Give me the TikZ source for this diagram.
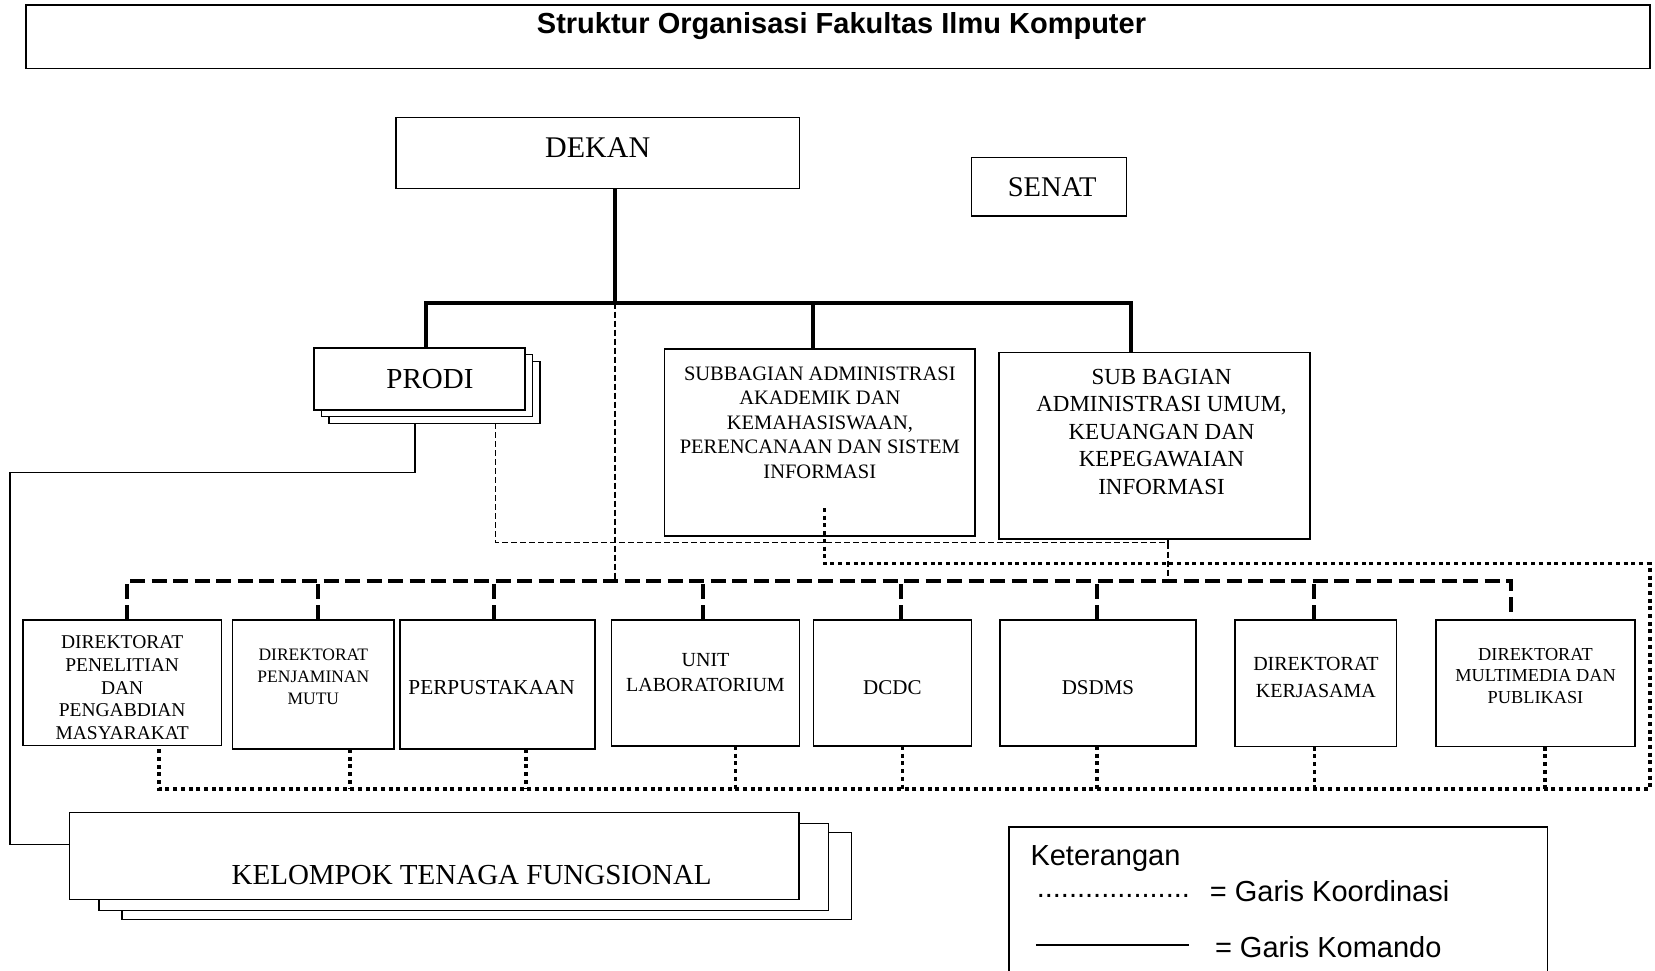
\documentclass[tikz,border=0pt]{standalone}
\usepackage{fontspec}
\setmainfont{Liberation Serif}
\newfontfamily\arial{Liberation Sans}
\newcommand{\angkat}[1]{\rule[-#1]{0pt}{#1}}
\newcommand{\turun}[1]{\rule{0pt}{#1}}
\newcommand{\ukuran}[2]{\fontsize{#1}{#2}\selectfont}
\begin{document}
\begin{tikzpicture}[x=1pt, y=-1pt,
    kotak/.style={draw=black, line width=1.5pt, fill=white, inner sep=0pt, outer sep=0pt, align=center},
    komando/.style={line width=4pt},
    garis/.style={line width=1.5pt},
    tipis/.style={line width=1.5pt, dash pattern=on 6pt off 3pt},
    putus/.style={line width=4pt, dash pattern=on 15pt off 6.5pt},
    titik/.style={line width=3.5pt, dash pattern=on 4pt off 3.7pt},
    legenda/.style={font=\arial\ukuran{29}{34}, inner sep=0pt, anchor=base west}]
  \useasboundingbox (0,0) rectangle (1655,971);

  % judul
  \node[kotak, minimum width=1624pt, minimum height=63.5pt, font=\arial\bfseries\ukuran{29}{34}] (judul) at (838,36.75) {\hspace*{7pt}Struktur Organisasi Fakultas Ilmu Komputer\angkat{28pt}};

  % pimpinan
  \node[kotak, minimum width=403.4pt, minimum height=71pt, font=\ukuran{30}{36}] (dekan) at (597.7,152.8) {DEKAN\angkat{11.2pt}};
  \node[kotak, minimum width=155pt, minimum height=58.7pt, font=\ukuran{28.5}{34}] (senat) at (1049.2,186.65) {\turun{20.1pt}\hspace*{6pt}SENAT};

  \node[kotak, minimum width=211pt, minimum height=62pt] (prodi3) at (434.5,392.3) {};
  \node[kotak, minimum width=211pt, minimum height=62pt] (prodi2) at (427,385.7) {};
  \node[kotak, minimum width=211pt, minimum height=62pt, font=\ukuran{29}{35}] (prodi) at (419.5,379) {\hspace*{21pt}PRODI};

  \node[kotak, minimum width=310.7pt, minimum height=187pt, font=\ukuran{20.5}{24.6}] (sub1) at (819.85,442.5) {SUBBAGIAN ADMINISTRASI\\AKADEMIK DAN\\KEMAHASISWAAN,\\PERENCANAAN DAN SISTEM\\INFORMASI\angkat{40pt}};
  \node[kotak, minimum width=310.9pt, minimum height=186.3pt, font=\ukuran{23}{27.5}] (sub2) at (1154.55,445.85) {\hspace*{14pt}SUB BAGIAN\\\hspace*{14pt}ADMINISTRASI UMUM,\\\hspace*{14pt}KEUANGAN DAN\\\hspace*{14pt}KEPEGAWAIAN\\\hspace*{14pt}INFORMASI\angkat{28.2pt}};

  % unit di bawah
  \node[kotak, minimum width=198.5pt, minimum height=125.7pt, font=\ukuran{19.5}{22.65}] (pen) at (122.15,682.85) {\turun{22.9pt}DIREKTORAT\\PENELITIAN\\DAN\\PENGABDIAN\\MASYARAKAT};
  \node[kotak, minimum width=161.7pt, minimum height=129pt, font=\ukuran{17.5}{22}] (mutu) at (313.35,684.5) {DIREKTORAT\\PENJAMINAN\\MUTU\angkat{16.3pt}};
  \node[kotak, minimum width=195pt, minimum height=129pt, font=\ukuran{21.3}{25}] (pustaka) at (497.6,684.5) {\turun{20.4pt}PERPUSTAKAAN\hspace*{12pt}};
  \node[kotak, minimum width=187.8pt, minimum height=126pt, font=\ukuran{20}{25.7}] (lab) at (705.5,683) {UNIT\\LABORATORIUM\angkat{21.4pt}};
  \node[kotak, minimum width=158.1pt, minimum height=126pt, font=\ukuran{21}{25}] (dcdc) at (892.35,683) {\turun{23.2pt}DCDC};
  \node[kotak, minimum width=196.1pt, minimum height=126pt, font=\ukuran{21}{25}] (dsdms) at (1097.95,683) {\turun{23.2pt}DSDMS};
  \node[kotak, minimum width=161.7pt, minimum height=126.7pt, font=\ukuran{20}{26.7}] (kerja) at (1315.85,683.35) {DIREKTORAT\\KERJASAMA\angkat{11.9pt}};
  \node[kotak, minimum width=199pt, minimum height=126.7pt, font=\ukuran{18.3}{21.65}] (multi) at (1535.5,683.35) {DIREKTORAT\\MULTIMEDIA DAN\\PUBLIKASI\angkat{15.4pt}};

  \node[kotak, minimum width=729.6pt, minimum height=87pt] (kel3) at (486.8,875.8) {};
  \node[kotak, minimum width=729.6pt, minimum height=87pt] (kel2) at (463.6,866.8) {};
  \node[kotak, minimum width=729.6pt, minimum height=87pt, font=\ukuran{29}{35}] (kel) at (434.2,855.8) {\turun{58.4pt}\hspace*{75pt}KELOMPOK TENAGA FUNGSIONAL};

  % titik bantu
  \coordinate (cabang) at (615,302.5);
  \coordinate (busputus) at (615,580.5);
  \coordinate (belok) at (10,472.7);
  \coordinate (temu) at (1168,542.5);
  \coordinate (kanan) at (1650,563.5);
  \coordinate (bawah) at (615,789);

  % garis koordinasi tipis
  \draw[tipis] (cabang) -- (busputus);
  \draw[tipis] ([xshift=60.8pt]prodi3.south) |- (temu) -- (temu |- busputus);
  \draw[tipis] ([xshift=13.45pt]sub2.south) -- (temu);

  % garis komando
  \draw[komando] (dekan.south -| cabang) -- (cabang);
  \draw[komando] ([xshift=6.5pt]prodi.north) |- (cabang) -| ([xshift=-23.5pt]sub2.north);
  \draw[komando] ([xshift=-7pt]sub1.north) -- ([xshift=-7pt]sub1.north |- cabang);
  \draw[garis] ([xshift=-19.7pt]prodi3.south) |- (belok) |- ([yshift=11.5pt]kel.west);

  % garis putus ke unit
  \draw[putus] ([xshift=4.5pt]pen.north) |- (busputus) -| ([xshift=-24.5pt]multi.north);
  \foreach \bagian/\geser in {mutu/5, pustaka/-4, lab/-3, dcdc/8.7, dsdms/-0.75, kerja/-1.5}
    \draw[putus] ([xshift=\geser pt]\bagian.north) -- ([xshift=\geser pt]\bagian.north |- busputus);

  % garis koordinasi titik
  \draw[titik] ([xshift=4.5pt, yshift=28pt]sub1.south) |- (kanan) |- ([xshift=37pt]pen.south |- bawah) -- ([xshift=37pt]pen.south);
  \foreach \bagian/\geser in {mutu/36.7, pustaka/28.3, lab/30, dcdc/10, dsdms/-0.75, kerja/-1.5, multi/9.5}
    \draw[titik] ([xshift=\geser pt]\bagian.south) -- ([xshift=\geser pt]\bagian.south |- bawah);

  % keterangan
  \node[draw=black, line width=1.5pt, inner sep=0pt, outer sep=0pt, minimum width=538.7pt, minimum height=180pt] (ket) at (1278.35,917) {};
  \node[legenda] (keterangan) at (1030.3,865) {Keterangan};
  \node[legenda] (titiktitik) at (1036.6,897) {...................};
  \node[legenda] (ketkoordinasi) at (1209.7,901) {= Garis Koordinasi};
  \coordinate (garisa) at (1035.8,945);
  \coordinate (garisb) at (1189.3,945);
  \draw[garis] (garisa) -- (garisb);
  \node[legenda] (ketkomando) at (1214.8,957) {= Garis Komando};
\end{tikzpicture}
\end{document}
